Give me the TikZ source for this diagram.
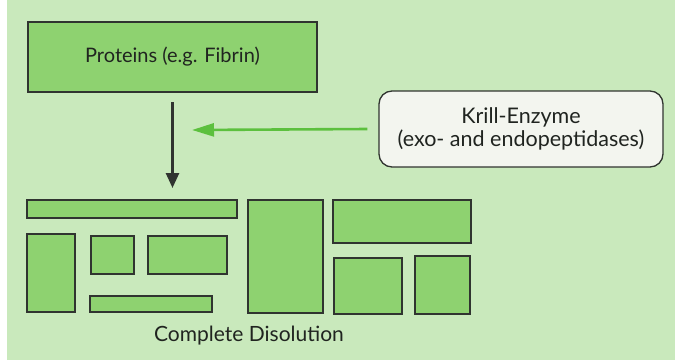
\documentclass[tikz,border=0pt]{standalone}
\usepackage{fontspec}
\setmainfont{Lato}
\usetikzlibrary{arrows.meta}
\definecolor{paper}{RGB}{201,233,188}
\definecolor{boxgreen}{RGB}{142,210,112}
\definecolor{edge}{RGB}{48,52,48}
\definecolor{ink}{RGB}{32,36,32}
\definecolor{enzfill}{RGB}{243,245,239}
\definecolor{enzarrow}{RGB}{92,192,62}
\tikzset{
  part/.style={draw=edge, line width=1.8pt, fill=boxgreen, inner sep=0pt, outer sep=0pt},
  label text/.style={text=ink, inner sep=0pt},
}
\begin{document}
\begin{tikzpicture}[x=1pt, y=-1pt]
  % page and background panel
  \useasboundingbox (0,0) rectangle (675,362);
  \fill[white] (0,0) rectangle (675,362);
  \fill[paper] (7,0) rectangle (675,360);

  % substrate
  \node[part, minimum width=289pt, minimum height=70pt, label text,
        font=\fontsize{20}{24}\selectfont] (prot) at (172.5,57) {Proteins (e.g. Fibrin)};

  % enzyme
  \node[draw=edge, line width=1.3pt, fill=enzfill, rounded corners=13pt, minimum width=284pt, minimum height=76pt,
        label text, align=center, font=\fontsize{21.5}{23}\selectfont] (krill) at (521,129)
        {Krill-Enzyme\\(exo- and endopeptidases)};

  % fragments after digestion
  \node[part, minimum width=210pt, minimum height=18pt] (r1) at (132,209) {};
  \node[part, minimum width=48pt,  minimum height=78pt] (r2) at (51,273) {};
  \node[part, minimum width=43pt,  minimum height=38pt] (r3) at (112.5,255) {};
  \node[part, minimum width=79pt,  minimum height=38pt] (r4) at (187.5,255) {};
  \node[part, minimum width=122pt, minimum height=16pt] (r5) at (151,304) {};
  \node[part, minimum width=75pt,  minimum height=113pt] (r6) at (285.5,256.5) {};
  \node[part, minimum width=138pt, minimum height=43pt] (r7) at (402,221.5) {};
  \node[part, minimum width=68pt,  minimum height=56pt] (r8) at (368,286) {};
  \node[part, minimum width=55pt,  minimum height=58pt] (r9) at (442.5,285) {};

  \node[label text, anchor=base, font=\fontsize{21}{24}\selectfont] (result) at (249,341) {Complete Disolution};

  % connectors
  \coordinate (tip) at (172.5,188);
  \coordinate (hit) at (192,130);
  \draw[edge, line width=2.6pt, -{Triangle[length=15pt, width=13pt]}] ([yshift=-10pt]prot.south) -- (tip);
  \draw[enzarrow, line width=2.6pt, -{Triangle[length=22pt, width=13pt]}] ([xshift=-11pt]krill.west) -- (hit);
\end{tikzpicture}
\end{document}
